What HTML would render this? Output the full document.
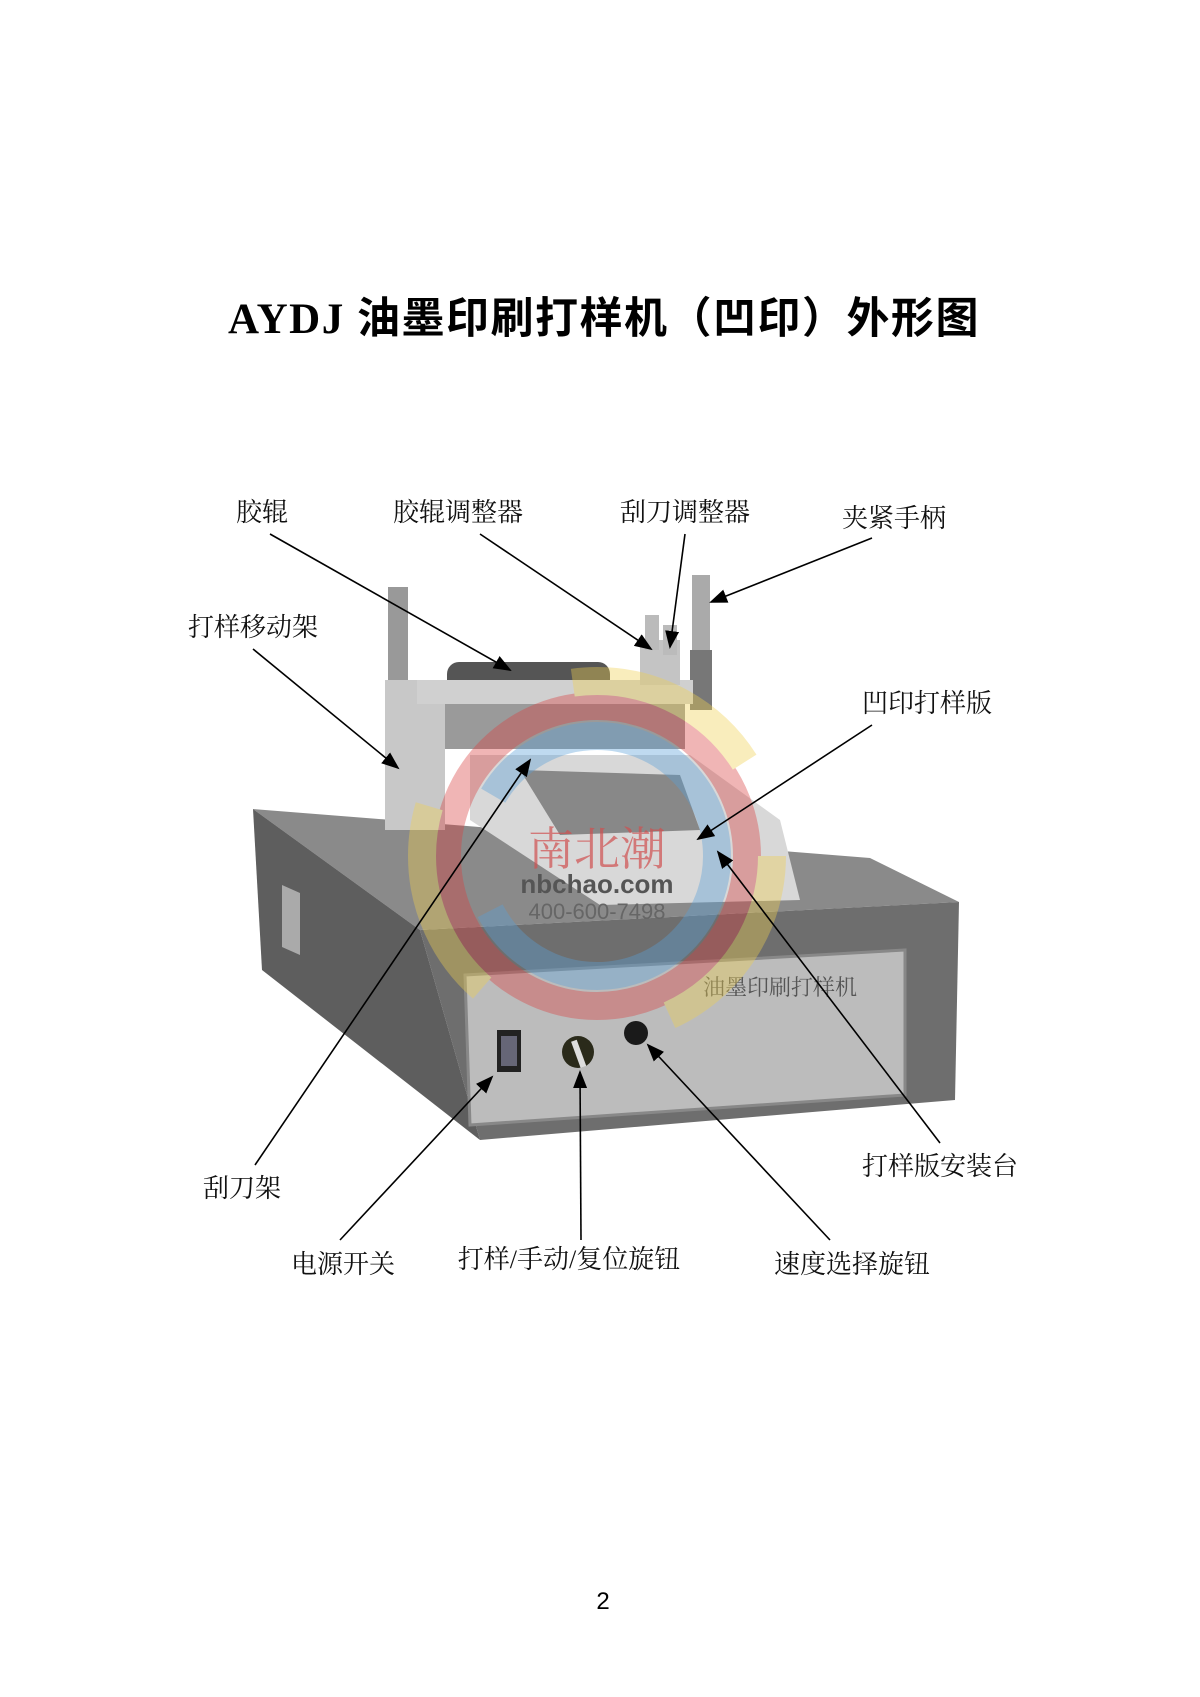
<!DOCTYPE html>
<html><head><meta charset="utf-8"><style>
html,body{margin:0;padding:0;background:#fff;}
svg{display:block;}
</style></head><body>
<svg width="1200" height="1697" viewBox="0 0 1200 1697" xmlns="http://www.w3.org/2000/svg">
<defs>
<marker id="b" markerWidth="18" markerHeight="14" refX="16" refY="7" orient="auto" markerUnits="userSpaceOnUse">
<path d="M0,0 L18,7 L0,14 z" fill="#000"/></marker>
</defs>
<text x="604" y="333" font-size="43" font-weight="bold" text-anchor="middle" style="font-family:'Liberation Serif','Noto Sans CJK SC',sans-serif;letter-spacing:1.5px">AYDJ  <tspan style="font-family:'Noto Sans CJK SC',sans-serif">油墨印刷打样机（凹印）外形图</tspan></text>

<!-- base -->
<polygon points="253,809 870,858 959,902 420,930" fill="#8a8a8a"/>
<polygon points="253,809 420,930 480,1140 262,970" fill="#5e5e5e"/>
<polygon points="420,930 959,902 955,1100 480,1140" fill="#6e6e6e"/>
<polygon points="465,975 905,950 905,1095 470,1125" fill="#bcbcbc" stroke="#888" stroke-width="3"/>
<polygon points="282,885 300,893 300,955 282,947" fill="#aaa"/>
<text x="780" y="995" font-size="22" fill="#555" text-anchor="middle" style="font-family:'Noto Serif CJK SC',serif">油墨印刷打样机</text>
<rect x="497" y="1030" width="24" height="42" fill="#222"/>
<rect x="501" y="1036" width="16" height="30" fill="#667"/>
<circle cx="578" cy="1052" r="16" fill="#2a2a1a"/>
<rect x="575" y="1040" width="6" height="28" fill="#ddd" transform="rotate(-20 578 1052)"/>
<circle cx="636" cy="1033" r="12" fill="#1a1a1a"/>

<!-- upper machine -->
<rect x="388" y="587" width="20" height="95" fill="#999"/>
<rect x="692" y="575" width="18" height="80" fill="#aaa"/>
<rect x="690" y="650" width="22" height="60" fill="#777"/>
<rect x="385" y="680" width="60" height="150" fill="#c8c8c8"/>
<rect x="447" y="662" width="163" height="30" rx="12" fill="#555"/>
<rect x="417" y="680" width="276" height="24" fill="#d0d0d0"/>
<rect x="445" y="704" width="240" height="45" fill="#9a9a9a"/>
<rect x="640" y="640" width="40" height="45" fill="#c4c4c4"/>
<rect x="645" y="615" width="14" height="35" fill="#bbb"/>
<rect x="663" y="625" width="14" height="30" fill="#bbb"/>
<polygon points="470,755 690,755 780,820 800,900 600,905 470,820" fill="#d8d8d8"/>
<polygon points="520,770 680,775 700,830 560,835" fill="#888"/>

<!-- watermark -->
<g opacity="0.38" fill="none" stroke-width="28">
<circle cx="597" cy="856" r="150" stroke="#d94040"/>
<circle cx="597" cy="856" r="120" stroke="#5aa0d8" stroke-dasharray="320 120"/>
<circle cx="597" cy="856" r="175" stroke="#f0d050" stroke-dasharray="200 200"/>
</g>
<text x="597" y="865" font-size="46" fill="#d05050" text-anchor="middle" opacity="0.7" style="font-family:'Noto Serif CJK SC',serif">南北潮</text>
<text x="597" y="893" font-size="26" fill="#555" text-anchor="middle" font-weight="bold" style="font-family:'Liberation Sans',sans-serif">nbchao.com</text>
<text x="597" y="919" font-size="22" fill="#666" text-anchor="middle" style="font-family:'Liberation Sans',sans-serif">400-600-7498</text>

<!-- arrows -->
<g stroke="#000" stroke-width="1.6" fill="none">
<line x1="270" y1="534" x2="510" y2="670" marker-end="url(#b)"/>
<line x1="480" y1="534" x2="651" y2="649" marker-end="url(#b)"/>
<line x1="685" y1="534" x2="670" y2="647" marker-end="url(#b)"/>
<line x1="872" y1="538" x2="711" y2="602" marker-end="url(#b)"/>
<line x1="253" y1="649" x2="398" y2="768" marker-end="url(#b)"/>
<line x1="872" y1="725" x2="698" y2="839" marker-end="url(#b)"/>
<line x1="940" y1="1143" x2="718" y2="852" marker-end="url(#b)"/>
<line x1="255" y1="1165" x2="530" y2="760" marker-end="url(#b)"/>
<line x1="340" y1="1240" x2="492" y2="1077" marker-end="url(#b)"/>
<line x1="581" y1="1240" x2="580" y2="1072" marker-end="url(#b)"/>
<line x1="830" y1="1240" x2="648" y2="1045" marker-end="url(#b)"/>
</g>

<g font-size="26" text-anchor="middle" fill="#111" style="font-family:'Liberation Serif','Noto Serif CJK SC',serif">
<text x="262" y="521">胶辊</text>
<text x="458" y="521">胶辊调整器</text>
<text x="685" y="521">刮刀调整器</text>
<text x="894" y="527">夹紧手柄</text>
<text x="253" y="636">打样移动架</text>
<text x="927" y="712">凹印打样版</text>
<text x="940" y="1175">打样版安装台</text>
<text x="242" y="1197">刮刀架</text>
<text x="343" y="1273">电源开关</text>
<text x="569" y="1268">打样/手动/复位旋钮</text>
<text x="852" y="1273">速度选择旋钮</text>
</g>
<text x="603" y="1609" font-size="24" text-anchor="middle" style="font-family:'Liberation Sans',sans-serif">2</text>
</svg>
</body></html>
